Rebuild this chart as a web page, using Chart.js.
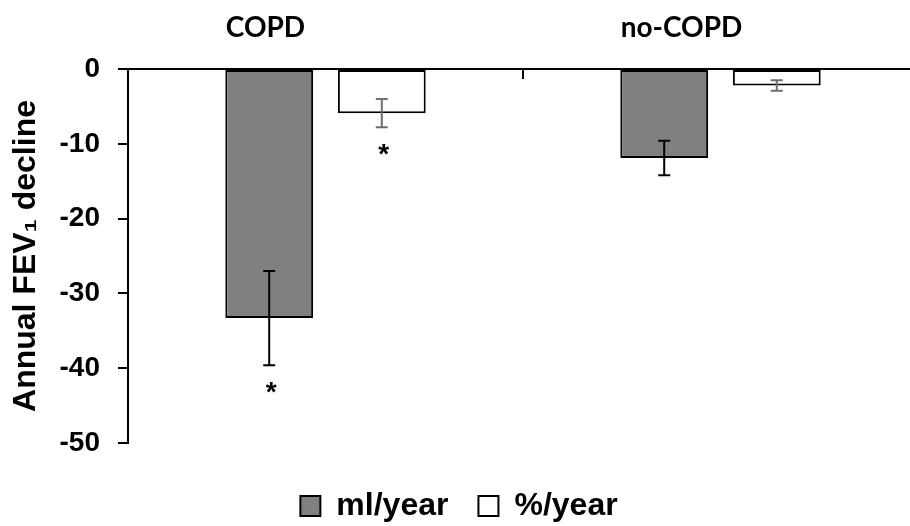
<!DOCTYPE html>
<html>
<head>
<meta charset="utf-8">
<script src="https://cdn.jsdelivr.net/npm/chart.js@4/dist/chart.umd.min.js"></script>
<style>
  html, body { margin: 0; padding: 0; background: #fff; overflow: hidden; }
  #wrap { width: 920px; height: 526px; position: relative; }
</style>
</head>
<body>
<div id="wrap"><canvas id="fevChart"></canvas></div>
<script>
const categories = ['COPD', 'no-COPD'];
const mlPerYear = [-33.3, -11.9];
const mlPerYearErr = [6.3, 2.3];
const pctPerYear = [-5.9, -2.2];
const pctPerYearErr = [1.9, 0.7];
const mlStars = [true, false];
const pctStars = [true, false];
const yMin = -50, yMax = 0, yStep = 10;

// error bars + asterisks under them
const errorBars = {
    id: 'errorBars',
    afterDatasetsDraw(chart) {
        const ctx = chart.ctx;
        const y = chart.scales.y;
        chart.data.datasets.forEach((ds, i) => {
            const meta = chart.getDatasetMeta(i);
            meta.data.forEach((bar, j) => {
                const v = ds.data[j], e = ds.errors[j];
                const top = y.getPixelForValue(v + e);
                const bot = y.getPixelForValue(v - e);
                ctx.save();
                ctx.strokeStyle = ds.errorColor;
                ctx.lineWidth = 2;
                ctx.beginPath();
                ctx.moveTo(bar.x, top); ctx.lineTo(bar.x, bot);
                ctx.moveTo(bar.x - 6, top); ctx.lineTo(bar.x + 6, top);
                ctx.moveTo(bar.x - 6, bot); ctx.lineTo(bar.x + 6, bot);
                ctx.stroke();
                if (ds.stars[j]) {
                    ctx.fillStyle = '#000';
                    ctx.font = 'bold 28px "Liberation Sans", Arial, sans-serif';
                    ctx.textAlign = 'center';
                    ctx.textBaseline = 'top';
                    ctx.fillText('*', bar.x + 2, bot + 14);
                }
                ctx.restore();
            });
        });
    }
};

// group headers above the axis and the separator tick between groups
const groupHeaders = {
    id: 'groupHeaders',
    afterDraw(chart) {
        const ctx = chart.ctx;
        const x = chart.scales.x;
        const area = chart.chartArea;
        const shift = [-60, -39];
        ctx.save();
        ctx.fillStyle = '#000';
        ctx.font = 'bold 28px Lato, "Open Sans", sans-serif';
        ctx.textAlign = 'center';
        ctx.textBaseline = 'alphabetic';
        categories.forEach((c, i) => {
            ctx.fillText(c, x.getPixelForValue(i) + shift[i], 37);
        });
        const mid = (x.getPixelForValue(0) + x.getPixelForValue(1)) / 2;
        ctx.strokeStyle = '#000';
        ctx.lineWidth = 2;
        ctx.beginPath();
        ctx.moveTo(mid, area.top);
        ctx.lineTo(mid, area.top + 10);
        ctx.stroke();
        ctx.restore();
    }
};

const ctx = document.getElementById('fevChart').getContext('2d');
const fevChart = new Chart(ctx, {
    type: 'bar',
    data: {
        labels: categories,
        datasets: [{
            label: 'ml/year',
            data: mlPerYear,
            errors: mlPerYearErr,
            stars: mlStars,
            errorColor: '#000',
            backgroundColor: '#808080',
            borderColor: '#000',
            borderWidth: 2,
            borderSkipped: false
        }, {
            label: '%/year',
            data: pctPerYear,
            errors: pctPerYearErr,
            stars: pctStars,
            errorColor: '#6e6e6e',
            backgroundColor: '#fff',
            borderColor: '#000',
            borderWidth: 2,
            borderSkipped: false
        }]
    },
    options: {
        responsive: true,
        maintainAspectRatio: false,
        animation: false,
        categoryPercentage: 0.57,
        barPercentage: 0.78,
        layout: { padding: { left: 0, right: 2, top: 0, bottom: -6 } },
        plugins: {
            legend: {
                position: 'bottom',
                labels: {
                    color: '#000',
                    font: { family: '"Liberation Sans", Arial, sans-serif', size: 32, weight: 'bold' },
                    boxWidth: 20,
                    boxHeight: 20,
                    padding: 30
                }
            },
            tooltip: { enabled: false }
        },
        scales: {
            x: {
                type: 'category',
                position: 'top',
                grid: { display: false },
                border: { display: true, color: '#000', width: 2 },
                ticks: { display: false },
                afterFit: s => { s.height = 69; }
            },
            x2: {
                type: 'category',
                position: 'bottom',
                labels: categories,
                grid: { display: false },
                border: { display: false },
                ticks: { display: false },
                afterFit: s => { s.height = 17; }
            },
            y: {
                min: yMin,
                max: yMax,
                ticks: {
                    stepSize: yStep,
                    color: '#000',
                    padding: 18,
                    font: { family: '"Liberation Sans", Arial, sans-serif', size: 28, weight: 'bold' }
                },
                grid: { drawOnChartArea: false, drawTicks: true, tickLength: 10, color: '#000', lineWidth: 2 },
                border: { display: true, color: '#000', width: 2 },
                title: {
                    display: true,
                    text: 'Annual FEV\u2081 decline',
                    color: '#000',
                    padding: { top: 7, bottom: 0 },
                    font: { family: '"Liberation Sans", Arial, sans-serif', size: 32, weight: 'bold' }
                },
                afterFit: s => { s.width = 128; }
            }
        }
    },
    plugins: [errorBars, groupHeaders]
});
</script>
</body>
</html>
